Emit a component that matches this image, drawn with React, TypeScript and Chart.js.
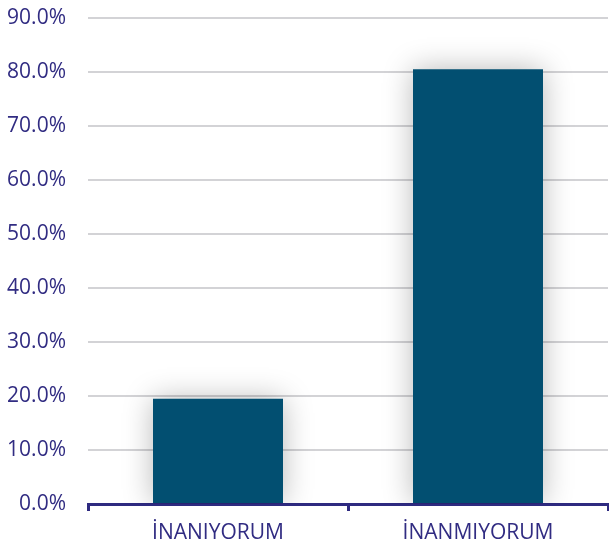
import React, { useEffect, useRef } from "react";
import { Chart, registerables } from "chart.js";

Chart.register(...registerables);

const categories = ["İNANIYORUM", "İNANMIYORUM"];
const values = [19.5, 80.5];
const yMax = 90;
const yStep = 10;

const textColor = "#312C82";
const axisColor = "#2E2A80";
const barColor = "#024F71";

const shadowPlugin = {
  id: "barShadow",
  beforeDatasetsDraw(chart: any) {
    const ctx = chart.ctx;
    ctx.save();
    ctx.shadowColor = "rgba(0,0,0,0.28)";
    ctx.shadowBlur = 28;
    ctx.shadowOffsetX = 0;
    ctx.shadowOffsetY = 0;
  },
  afterDatasetsDraw(chart: any) {
    chart.ctx.restore();
  },
};

export default function App() {
  const ref = useRef<HTMLCanvasElement | null>(null);
  useEffect(() => {
    if (!ref.current) return;
    const chart = new Chart(ref.current, {
      type: "bar",
      data: {
        labels: categories,
        datasets: [
          {
            data: values,
            backgroundColor: barColor,
            categoryPercentage: 1,
            barPercentage: 0.5,
          },
        ],
      },
      plugins: [shadowPlugin],
      options: {
        animation: false,
        responsive: false,
        maintainAspectRatio: false,
        layout: { padding: { top: 18, right: 1, left: 0, bottom: 0 } },
        plugins: { legend: { display: false }, tooltip: { enabled: false } },
        scales: {
          x: {
            grid: {
              offset: true,
              drawOnChartArea: false,
              drawTicks: true,
              tickLength: 7,
              color: axisColor,
              lineWidth: 3,
            },
            border: { display: true, color: axisColor, width: 3 },
            ticks: {
              color: textColor,
              font: { family: "'Open Sans'", size: 21 },
              padding: 9,
            },
            afterFit(scale: any) {
              scale.height = 46;
              scale.paddingLeft = 0;
              scale.paddingRight = 0;
            },
          },
          y: {
            min: 0,
            max: yMax,
            ticks: {
              stepSize: yStep,
              color: textColor,
              font: { family: "'Open Sans'", size: 21 },
              padding: 22,
              callback: (v: any) => Number(v).toFixed(1) + "%",
            },
            grid: { color: "#D3D3D6", lineWidth: 2, drawTicks: false },
            border: { display: false },
            afterFit(scale: any) {
              scale.width = 88;
              scale.paddingTop = 0;
              scale.paddingBottom = 0;
            },
          },
        },
      },
    });
    return () => chart.destroy();
  }, []);
  return (
    <div style={{ position: "fixed", left: 0, top: 0, width: 609, height: 550, background: "#fff" }}>
      <canvas ref={ref} width={609} height={550} />
    </div>
  );
}
